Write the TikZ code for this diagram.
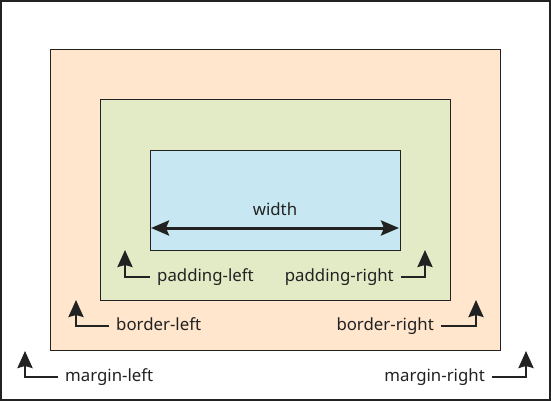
\documentclass[tikz,border=0pt]{standalone}
\usepackage{fontspec}
\setmainfont{Noto Sans}
\usetikzlibrary{arrows.meta}
\definecolor{marginfill}{RGB}{255,255,255}
\definecolor{borderfill}{RGB}{255,230,204}
\definecolor{paddingfill}{RGB}{226,235,197}
\definecolor{contentfill}{RGB}{199,232,242}
\definecolor{ink}{RGB}{34,34,34}
\tikzset{
  box/.style={draw=ink, line width=1pt},
  lbl/.style={text=ink, inner xsep=7pt, inner ysep=0pt, text height=0.95em, text depth=0.1em, font=\fontsize{16.8}{20}\selectfont},
  elbow/.style={draw=ink, line width=2.5pt, -{Stealth[length=17pt,width=15pt,inset=2pt]}},
}
\begin{document}
\begin{tikzpicture}[x=1pt, y=-1pt]
  \useasboundingbox (0,0) rectangle (551,401);
  % boxes
  \draw [box, line width=1.5pt, fill=marginfill] (1,1) rectangle (550,400);
  \draw [box, fill=borderfill] (50,50) rectangle (500,350);
  \draw [box, fill=paddingfill] (100,100) rectangle (450,300);
  \draw [box, fill=contentfill] (150,150) rectangle (400,250);
  % width
  \coordinate (wl) at (151,228);
  \coordinate (wr) at (399,228);
  \node [lbl] (width) at (275,211) {width};
  \draw [ink, line width=3pt, {Stealth[length=18pt,width=15pt,inset=3pt]}-{Stealth[length=18pt,width=15pt,inset=3pt]}] (wl) -- (wr);
  % labels
  \node [lbl, anchor=west] (pl) at (150,277) {padding-left};
  \node [lbl, anchor=east] (pr) at (401,277) {padding-right};
  \node [lbl, anchor=west] (bl) at (109,326) {border-left};
  \node [lbl, anchor=east] (br) at (441,326) {border-right};
  \node [lbl, anchor=west] (ml) at (58,377) {margin-left};
  \node [lbl, anchor=east] (mr) at (492,377) {margin-right};
  % tips
  \coordinate (plTip) at (125,250);
  \coordinate (prTip) at (425,250);
  \coordinate (blTip) at (76,300);
  \coordinate (brTip) at (476,300);
  \coordinate (mlTip) at (25,351);
  \coordinate (mrTip) at (526,351);
  % links
  \draw [elbow] (pl.west) -| (plTip);
  \draw [elbow] (pr.east) -| (prTip);
  \draw [elbow] (bl.west) -| (blTip);
  \draw [elbow] (br.east) -| (brTip);
  \draw [elbow] (ml.west) -| (mlTip);
  \draw [elbow] (mr.east) -| (mrTip);
\end{tikzpicture}
\end{document}
